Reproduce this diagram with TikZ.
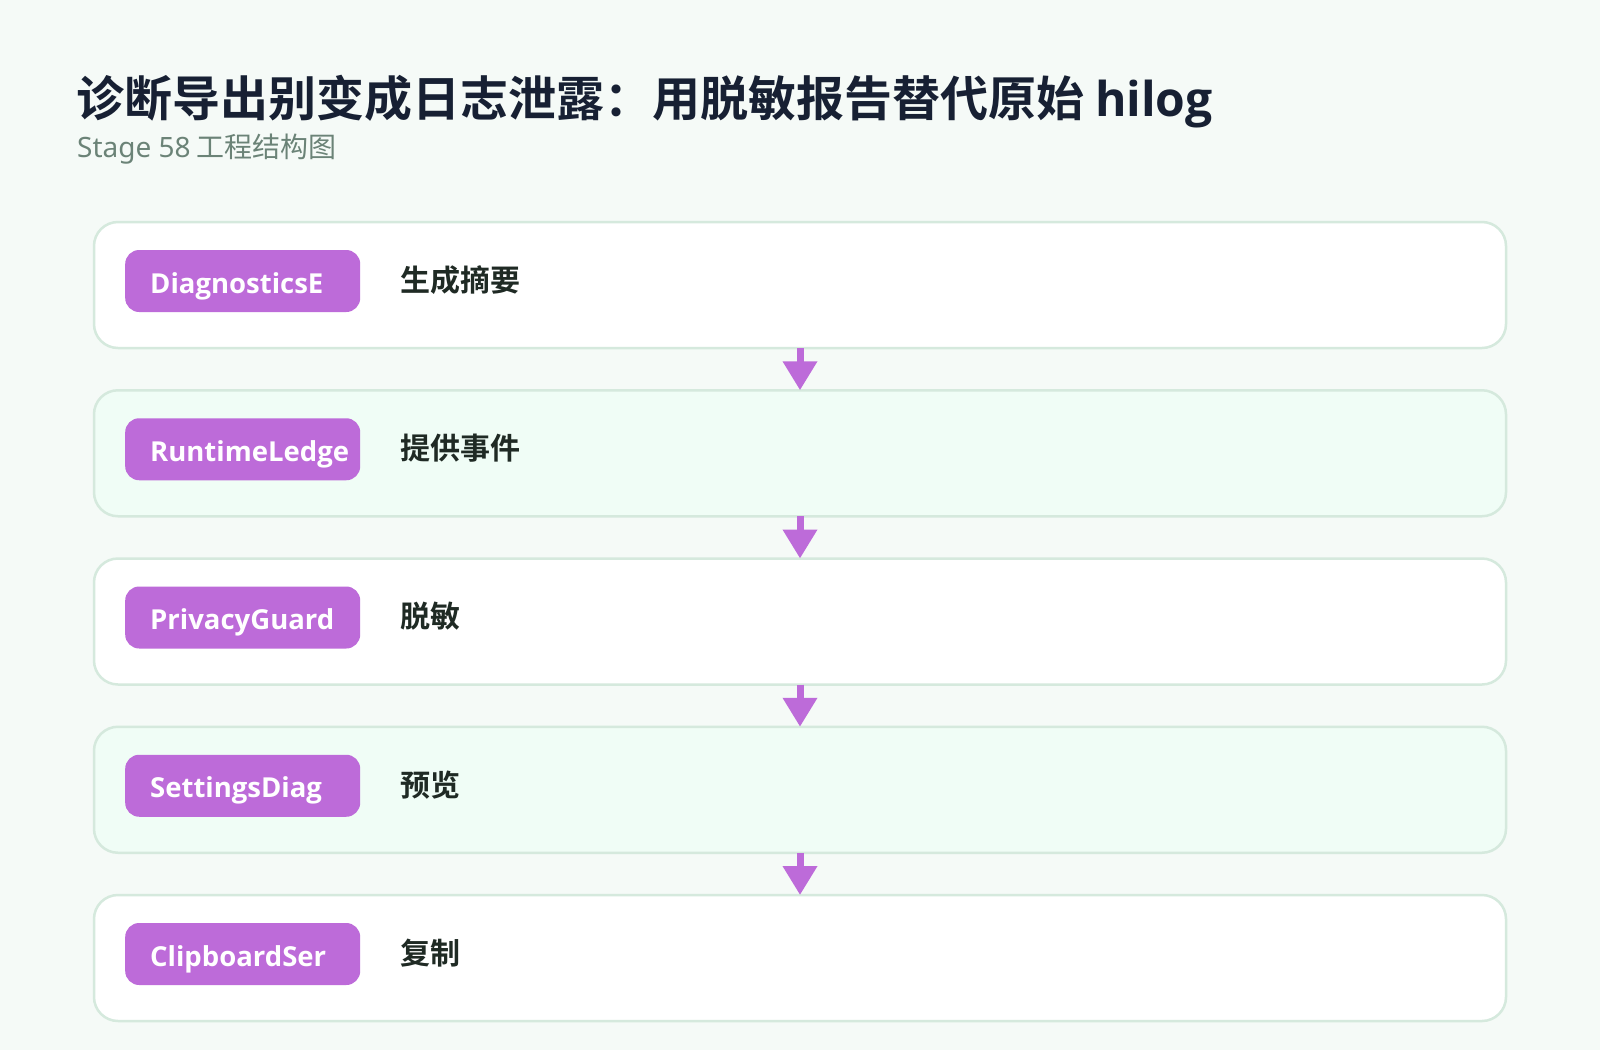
\documentclass[tikz,border=0pt]{standalone}
\usepackage{fontspec}
\setmainfont{Noto Sans CJK SC}
\newfontfamily\cjk{Noto Sans CJK SC}
\newfontfamily\cjkb{Noto Sans CJK SC Bold}
\newfontfamily\latin{Noto Sans}
\newfontfamily\osans{Open Sans}
\usetikzlibrary{arrows.meta}
\definecolor{bgc}{HTML}{F5FAF7}
\definecolor{bordc}{HTML}{D5E9DD}
\definecolor{mint}{HTML}{F0FDF6}
\definecolor{pill}{HTML}{BD6BD9}
\definecolor{titlec}{HTML}{172033}
\definecolor{subc}{HTML}{6B8377}
\definecolor{labc}{HTML}{1F2A24}
\tikzset{
  stagebox/.style={draw=bordc, line width=2.5pt, rounded corners=24pt, minimum width=1412pt, minimum height=126pt, inner sep=0pt, outer sep=0pt},
  pillbox/.style={fill=pill, rounded corners=14pt, minimum width=235pt, minimum height=62pt, inner sep=0pt, anchor=west},
  pilltext/.style={text=white, font=\osans\bfseries\fontsize{27.5}{31}\selectfont, anchor=west, inner sep=0pt},
  labtext/.style={text=labc, font=\cjkb\fontsize{30}{34}\selectfont, anchor=west, inner sep=0pt},
  flow/.style={draw=pill, line width=7pt, -{Triangle[width=33pt,length=29pt]}}
}
\begin{document}
\begin{tikzpicture}[x=1pt,y=-1pt]
\fill[bgc] (0,0) rectangle (1600,1050);
\useasboundingbox (0,0) rectangle (1600,1050);
\node[anchor=base west, inner sep=0pt, text=titlec, font=\cjkb\fontsize{48}{56}\selectfont] (title) at (76,116) {诊断导出别变成日志泄露：用脱敏报告替代原始 {\osans\bfseries hilog}};
\node[anchor=base west, inner sep=0pt, text=subc, font=\cjk\fontsize{28}{32}\selectfont] (subtitle) at (77,157) {{\latin Stage 58} 工程结构图};
\foreach \i/\nm/\lab/\fc in {0/DiagnosticsE/生成摘要/white, 1/RuntimeLedge/提供事件/mint, 2/PrivacyGuard/脱敏/white, 3/SettingsDiag/预览/mint, 4/ClipboardSer/复制/white}{
  \pgfmathsetmacro{\cy}{285+168.25*\i}
  \node[stagebox, fill=\fc] (box\i) at (800,\cy) {};
  \node[pillbox] (pill\i) at (125,\cy-4) {};
  \node[pilltext] (ptext\i) at (150,\cy+1) {\nm};
  \node[labtext] (lab\i) at (400,\cy-5) {\lab};
}
\foreach \i [evaluate=\i as \j using int(\i+1)] in {0,1,2,3}{
  \draw[flow] (box\i.south) -- (box\j.north);
}
\end{tikzpicture}
\end{document}
